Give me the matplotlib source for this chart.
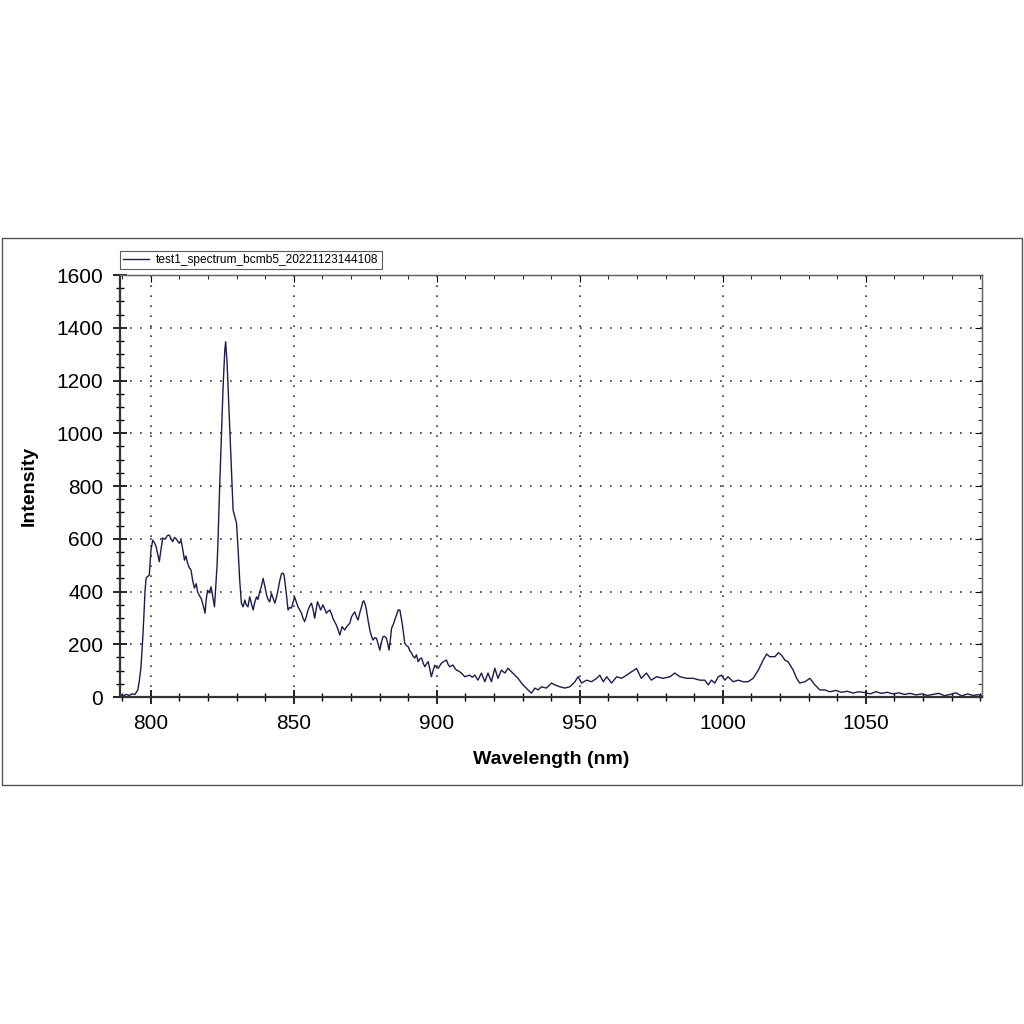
import matplotlib.pyplot as plt
from matplotlib.patches import Rectangle
from matplotlib.ticker import MultipleLocator

plt.rcParams['font.family'] = ['Liberation Sans', 'DejaVu Sans']

# === Spectrum data ===
wavelength = [
    789.5, 790.5, 791.5, 792.5, 793.5, 794.5, 795.5, 796.0, 796.6, 797.1,
    797.6, 798.0, 798.4, 799.0, 799.5, 800.1, 800.7, 801.3, 801.9, 802.5,
    803.0, 803.6, 804.2, 805.0, 805.8, 806.5, 807.1, 807.7, 808.3, 808.9,
    809.5, 810.0, 810.6, 811.2, 811.8, 812.3, 812.9, 813.5, 814.1, 814.7,
    815.3, 815.9, 816.4, 817.0, 817.6, 818.3, 819.0, 819.4, 819.9, 820.5,
    821.1, 821.7, 822.3, 822.8, 823.2, 823.5, 824.1, 824.7, 825.3, 825.9,
    826.2, 826.7, 827.4, 828.2, 828.8, 829.4, 830.0, 830.5, 831.1, 831.7,
    832.3, 832.9, 833.4, 834.0, 834.6, 835.2, 835.8, 836.4, 837.0, 837.5,
    838.1, 838.7, 839.3, 839.9, 840.5, 841.0, 841.6, 842.2, 842.8, 843.4,
    844.0, 844.5, 845.1, 845.7, 846.2, 846.6, 847.0, 847.4, 848.0, 848.6,
    849.2, 849.8, 850.3, 850.9, 851.5, 852.1, 852.7, 853.2, 853.8, 854.4,
    855.0, 855.6, 856.2, 856.8, 857.3, 857.8, 858.3, 858.9, 859.4, 860.2,
    860.8, 861.4, 862.0, 862.6, 863.2, 863.7, 864.3, 864.9, 865.5, 866.1,
    866.9, 867.4, 867.8, 868.4, 869.0, 869.6, 870.2, 870.8, 871.3, 871.9,
    872.5, 873.1, 873.7, 874.1, 874.5, 875.0, 875.4, 876.0, 876.6, 877.2,
    877.7, 878.3, 878.9, 879.5, 880.1, 880.6, 881.2, 881.8, 882.4, 882.9,
    883.3, 883.8, 884.2, 884.8, 885.3, 885.9, 886.5, 887.1, 887.5, 887.9,
    888.4, 888.8, 889.4, 890.0, 890.6, 891.2, 891.7, 892.3, 892.9, 893.5,
    894.1, 894.7, 895.2, 895.8, 896.4, 897.0, 897.5, 898.1, 898.7, 899.3,
    899.9, 900.5, 901.0, 901.6, 902.5, 903.4, 903.9, 904.5, 905.1, 905.7,
    906.3, 906.9, 907.4, 908.0, 908.9, 909.8, 910.6, 911.5, 912.4, 913.3,
    914.4, 915.6, 916.8, 917.9, 919.1, 920.3, 921.4, 922.6, 923.8, 924.9,
    926.1, 927.3, 928.4, 929.6, 930.8, 931.9, 933.1, 934.3, 935.4, 936.6,
    938.3, 940.1, 941.3, 943.0, 944.8, 946.5, 948.3, 949.4, 950.6, 952.4,
    954.1, 955.9, 957.0, 958.2, 959.4, 961.1, 962.9, 964.6, 966.4, 968.1,
    969.0, 969.8, 971.5, 973.3, 975.0, 976.8, 979.1, 981.5, 983.2, 985.0,
    987.3, 989.6, 992.0, 993.7, 994.9, 996.0, 997.2, 998.4, 999.5, 1000.7,
    1001.8, 1003.6, 1005.4, 1007.1, 1008.8, 1010.6, 1012.4, 1014.1, 1015.3, 1016.4,
    1018.2, 1019.4, 1020.5, 1021.7, 1022.8, 1024.6, 1025.8, 1026.9, 1028.7, 1030.4,
    1032.2, 1033.9, 1035.7, 1037.4, 1039.5, 1041.5, 1043.5, 1045.5, 1047.5, 1049.5,
    1051.5, 1053.5, 1055.5, 1057.5, 1059.5, 1061.5, 1063.5, 1065.5, 1067.5, 1069.5,
    1071.5, 1073.5, 1075.5, 1077.5, 1079.5, 1081.5, 1083.5, 1085.5, 1087.5, 1089.5,
    1090.5,
]
intensity = [
    8, 5, 10, 6, 12, 10, 27, 60, 114, 200,
    303, 400, 451, 458, 462, 557, 595, 585, 570, 540,
    513, 560, 603, 598, 612, 614, 600, 589, 605, 600,
    590, 583, 595, 560, 519, 535, 507, 490, 481, 440,
    413, 430, 398, 385, 375, 350, 318, 370, 405, 395,
    418, 380, 342, 432, 500, 583, 796, 986, 1175, 1316,
    1347, 1266, 1077, 861, 709, 684, 659, 570, 444, 356,
    342, 368, 350, 342, 380, 355, 330, 360, 380, 370,
    399, 420, 450, 420, 387, 370, 361, 393, 375, 356,
    380, 406, 440, 467, 470, 463, 430, 393, 330, 340,
    337, 360, 380, 360, 342, 330, 318, 300, 286, 305,
    330, 345, 356, 330, 299, 330, 361, 345, 330, 349,
    335, 318, 325, 330, 315, 299, 285, 273, 255, 235,
    267, 260, 254, 265, 273, 280, 304, 315, 323, 305,
    292, 320, 342, 360, 365, 350, 330, 290, 254, 230,
    216, 225, 223, 200, 178, 205, 229, 230, 223, 200,
    178, 220, 261, 275, 292, 310, 330, 330, 305, 280,
    240, 204, 195, 191, 175, 166, 155, 148, 160, 134,
    145, 148, 130, 115, 125, 134, 110, 77, 100, 121,
    112, 109, 118, 128, 135, 140, 125, 115, 118, 121,
    110, 102, 100, 96, 88, 77, 80, 83, 75, 83,
    64, 91, 58, 91, 58, 109, 71, 102, 91, 109,
    96, 83, 71, 53, 39, 27, 15, 34, 27, 39,
    34, 53, 46, 39, 34, 39, 58, 77, 53, 64,
    58, 71, 83, 58, 77, 53, 77, 71, 83, 96,
    102, 109, 71, 91, 64, 77, 71, 77, 91, 77,
    71, 71, 64, 64, 46, 64, 53, 77, 83, 64,
    77, 58, 64, 58, 58, 71, 102, 140, 163, 153,
    153, 168, 159, 140, 134, 102, 71, 53, 58, 71,
    46, 27, 27, 20, 25, 18, 22, 15, 20, 17,
    12, 20, 14, 18, 12, 16, 10, 14, 8, 12,
    6, 10, 14, 5, 10, 16, 4, 12, 6, 9,
    5,
]
series_name = "test1_spectrum_bcmb5_20221123144108"

fig = plt.figure(figsize=(10.24, 10.24), dpi=100)
fig.patch.set_facecolor('white')

# outer frame around the chart window
fig.patches.append(Rectangle((0.002, 0.2334), 0.996, 0.5342, transform=fig.transFigure,
                             fill=False, edgecolor='#555555', linewidth=1.0))

ax = fig.add_axes([0.117, 0.3193, 0.842, 0.4121])
ax.plot(wavelength, intensity, color='#1c1c4e', linewidth=1.0, label=series_name)

ax.set_xlim(789.2, 1090.6)
ax.set_ylim(0, 1600)
ax.xaxis.set_major_locator(MultipleLocator(50))
ax.xaxis.set_minor_locator(MultipleLocator(10))
ax.yaxis.set_major_locator(MultipleLocator(200))
ax.yaxis.set_minor_locator(MultipleLocator(50))

ax.grid(True, which='major', color='#333333', linestyle=(0, (1, 5)), linewidth=1.2)

for side in ['left', 'bottom']:
    ax.spines[side].set_linewidth(1.6)
    ax.spines[side].set_color('#333333')
for side in ['top', 'right']:
    ax.spines[side].set_linewidth(1.0)
    ax.spines[side].set_color('#666666')

ax.tick_params(which='major', direction='inout', length=10, width=1.2, labelsize=15, pad=7)
ax.tick_params(which='minor', direction='inout', length=6, width=1.0)

# inward ticks on the top and right sides
top = ax.secondary_xaxis('top')
top.xaxis.set_major_locator(MultipleLocator(50))
top.xaxis.set_minor_locator(MultipleLocator(10))
top.tick_params(which='major', direction='in', length=5, labeltop=False)
top.tick_params(which='minor', direction='in', length=3)
right = ax.secondary_yaxis('right')
right.yaxis.set_major_locator(MultipleLocator(200))
right.yaxis.set_minor_locator(MultipleLocator(50))
right.tick_params(which='major', direction='in', length=5, labelright=False)
right.tick_params(which='minor', direction='in', length=3)

ax.set_xlabel("Wavelength (nm)", fontsize=14, fontweight='bold')
ax.set_ylabel("Intensity", fontsize=14, fontweight='bold')
ax.xaxis.set_label_coords(0.5, -0.127)
ax.yaxis.set_label_coords(-0.095, 0.5)

leg = ax.legend(loc='lower left', bbox_to_anchor=(0.0, 1.015), fontsize=8.6,
                frameon=True, fancybox=False, borderpad=0.25, handlelength=2.2,
                borderaxespad=0, handletextpad=0.6)
leg.get_frame().set_edgecolor('#333333')
leg.get_frame().set_linewidth(0.8)

fig.savefig("out.png", dpi=100, facecolor='white')
